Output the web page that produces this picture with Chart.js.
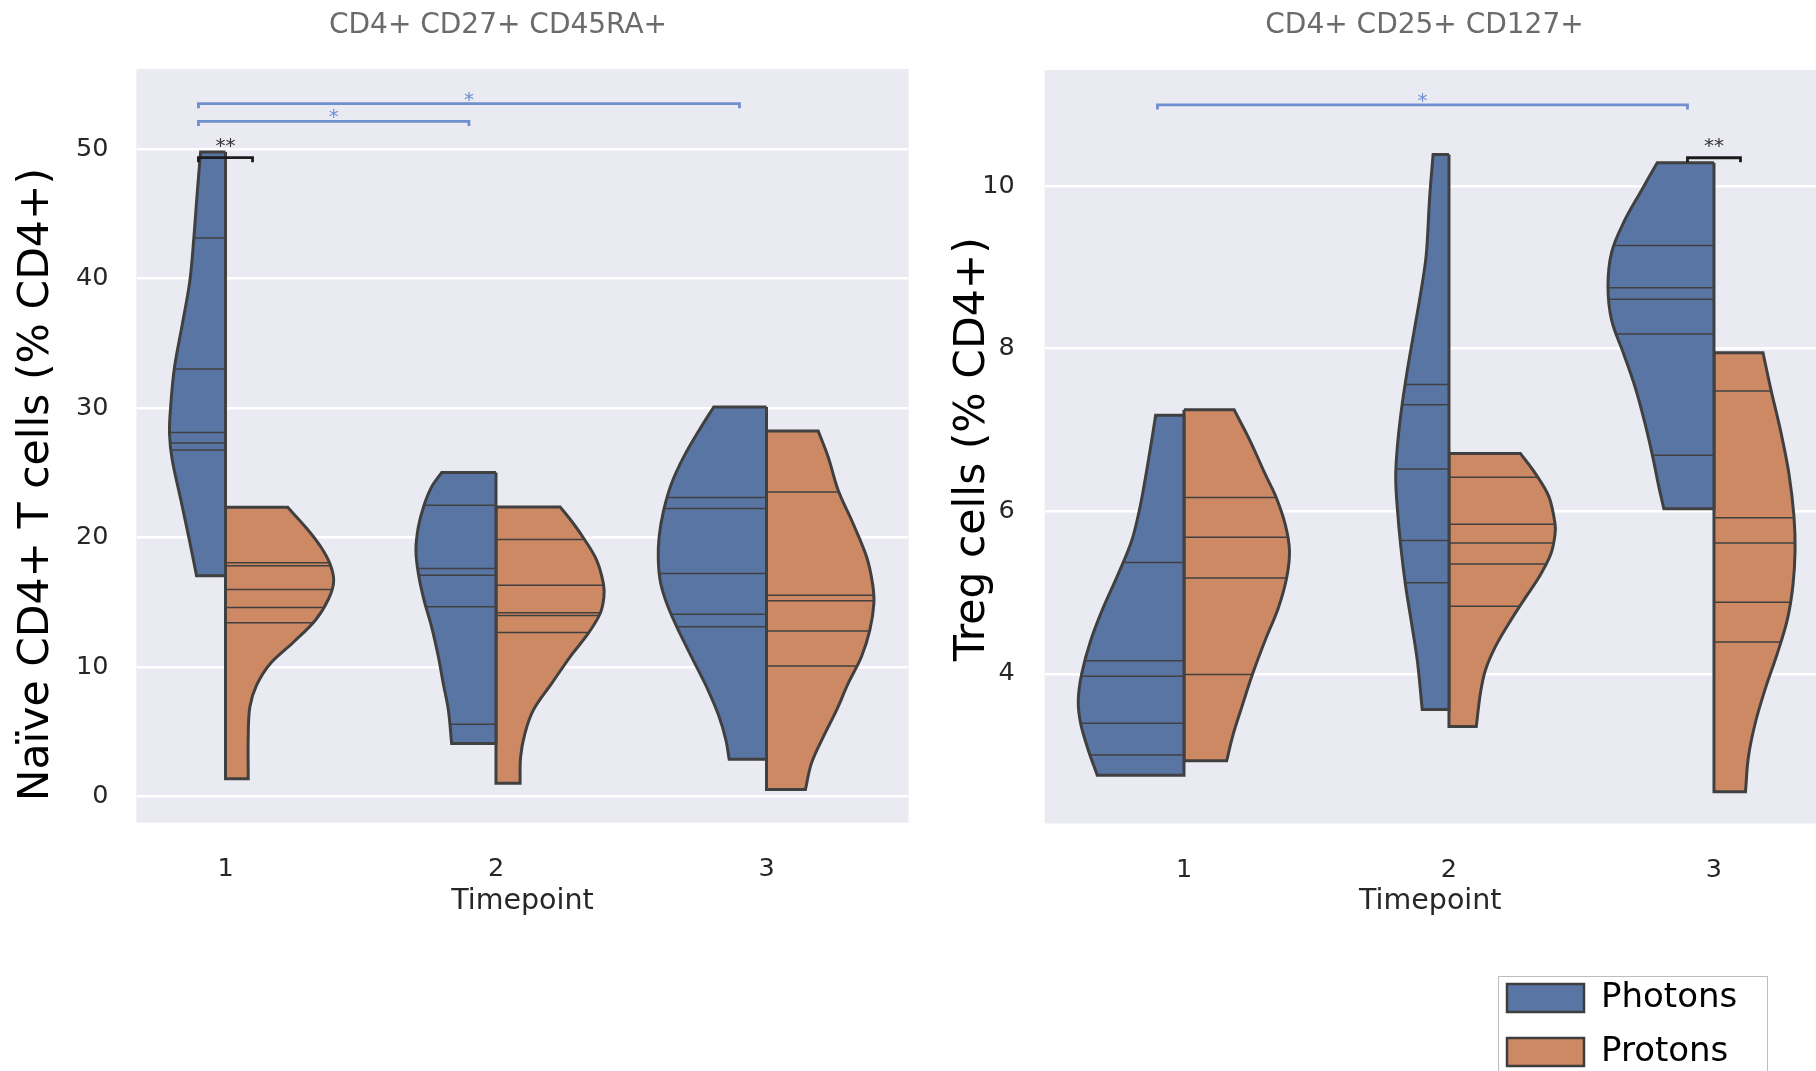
<!DOCTYPE html>
<html>
<head>
<meta charset="utf-8">
<script src="https://cdn.jsdelivr.net/npm/chart.js@4.4.0/dist/chart.umd.min.js"></script>
<style>
  html, body { margin: 0; padding: 0; background: #fff; overflow: hidden; }
  #page { position: relative; width: 1816px; height: 1071px; overflow: hidden; }
  canvas { position: absolute; }
  #naiveChart { left: 0; top: 0; }
  #tregChart { left: 930px; top: 0; }
  #legendBox { position: absolute; left: 1498px; top: 976px; width: 268px; height: 120px;
               border: 1px solid #bdbdbd; overflow: hidden; background: #fff; }
  #legendChart { left: -12px; top: -16px; }
</style>
</head>
<body>
<div id="page">
  <canvas id="naiveChart" width="920" height="940"></canvas>
  <canvas id="tregChart" width="886" height="940"></canvas>
  <div id="legendBox"><canvas id="legendChart" width="640" height="150"></canvas></div>
</div>
<script>
// =============================================================================
// DATA
// =============================================================================
const timepoints = ['1', '2', '3'];
const seriesNames = ['Photons', 'Protons'];
const seriesColors = ['#5875a4', '#cc8963'];
const seriesSide = [-1, 1];   // Photons on the left half, Protons on the right half

const naiveTicks = [0, 10, 20, 30, 40, 50];
const tregTicks = [4, 6, 8, 10];

// violin outlines: [value, half-width (category units)] from top to bottom, one per timepoint
const naivePhotonsOutline = [
  [[49.77, 0.092], [46.48, 0.105], [43.13, 0.117], [39.77, 0.132], [36.42, 0.160], [33.07, 0.189],
   [30.05, 0.203], [28.03, 0.207], [26.0, 0.197], [23.0, 0.166], [19.65, 0.132], [17.04, 0.107]],
  [[25.01, 0.201], [23.91, 0.238], [22.49, 0.266], [20.82, 0.287], [19.02, 0.296], [17.22, 0.287],
   [15.16, 0.266], [13.10, 0.238], [10.79, 0.213], [8.73, 0.195], [6.67, 0.176], [4.10, 0.164]],
  [[30.08, 0.195], [28.28, 0.249], [26.22, 0.306], [24.17, 0.351], [22.11, 0.380], [20.05, 0.397],
   [18.25, 0.400], [16.45, 0.391], [14.65, 0.364], [12.59, 0.320], [10.28, 0.265], [8.22, 0.216],
   [6.16, 0.175], [4.36, 0.150], [2.87, 0.138]]
];
const naiveProtonsOutline = [
  [[22.33, 0.230], [20.66, 0.302], [19.32, 0.351], [17.98, 0.386], [16.64, 0.400], [15.30, 0.382],
   [13.63, 0.333], [11.95, 0.253], [10.27, 0.166], [8.6, 0.115], [6.92, 0.090], [4.57, 0.084], [1.38, 0.084]],
  [[22.36, 0.237], [21.08, 0.286], [19.79, 0.329], [18.25, 0.372], [16.45, 0.397], [15.42, 0.399],
   [14.13, 0.385], [12.59, 0.341], [10.79, 0.274], [8.73, 0.206], [6.67, 0.138], [4.88, 0.107],
   [3.07, 0.091], [1.02, 0.089]],
  [[28.23, 0.191], [26.22, 0.228], [23.65, 0.265], [21.08, 0.320], [18.51, 0.370], [16.45, 0.392],
   [14.91, 0.397], [12.85, 0.382], [10.79, 0.351], [8.73, 0.302], [6.67, 0.259], [4.61, 0.210],
   [2.56, 0.166], [0.55, 0.144]]
];
const naivePhotonsSticks = [[43.13, 33.0, 28.1, 27.3, 26.76], [22.49, 17.61, 17.09, 14.65, 5.59], [23.09, 22.24, 17.22, 14.08, 13.10]];
const naiveProtonsSticks = [[18.04, 17.81, 15.99, 14.60, 13.41], [19.84, 16.32, 14.18, 13.98, 12.67], [23.52, 15.55, 15.11, 12.79, 10.07]];

const tregPhotonsOutline = [
  [[7.18, 0.107], [6.87, 0.122], [6.46, 0.143], [6.05, 0.166], [5.64, 0.197], [5.23, 0.248],
   [4.82, 0.304], [4.41, 0.352], [4.0, 0.386], [3.67, 0.399], [3.39, 0.390], [3.06, 0.361], [2.75, 0.327]],
  [[10.39, 0.060], [9.86, 0.073], [9.15, 0.086], [8.68, 0.107], [8.21, 0.132], [7.74, 0.157],
   [7.26, 0.179], [6.79, 0.195], [6.42, 0.201], [6.04, 0.195], [5.57, 0.182], [5.09, 0.164],
   [4.62, 0.141], [4.15, 0.119], [3.56, 0.101]],
  [[10.29, 0.214], [9.93, 0.277], [9.56, 0.340], [9.19, 0.386], [8.77, 0.400], [8.35, 0.386],
   [7.93, 0.340], [7.51, 0.296], [7.09, 0.261], [6.67, 0.231], [6.30, 0.208], [6.03, 0.189]]
];
const tregProtonsOutline = [
  [[7.25, 0.189], [6.87, 0.249], [6.46, 0.306], [6.17, 0.348], [5.84, 0.382], [5.52, 0.398],
   [5.19, 0.388], [4.82, 0.357], [4.41, 0.306], [4.0, 0.259], [3.59, 0.218], [3.26, 0.186], [2.93, 0.161]],
  [[6.71, 0.270], [6.46, 0.327], [6.18, 0.377], [5.85, 0.400], [5.71, 0.400], [5.47, 0.384],
   [5.19, 0.340], [4.91, 0.283], [4.62, 0.226], [4.34, 0.176], [4.05, 0.138], [3.77, 0.119], [3.35, 0.103]],
  [[7.95, 0.185], [7.51, 0.214], [6.98, 0.252], [6.46, 0.283], [5.93, 0.302], [5.51, 0.306],
   [5.09, 0.298], [4.67, 0.277], [4.25, 0.239], [3.83, 0.195], [3.41, 0.157], [2.98, 0.130], [2.55, 0.119]]
];
const tregPhotonsSticks = [[5.37, 4.16, 3.97, 3.39, 3.0], [7.56, 7.31, 6.52, 5.64, 5.12], [9.27, 8.75, 8.61, 8.18, 6.69]];
const tregProtonsSticks = [[6.17, 5.68, 5.18, 3.99], [6.42, 5.84, 5.61, 5.35, 4.83], [7.48, 5.92, 5.61, 4.88, 4.39]];

// significance brackets: [from x, to x, value, stars]
const naiveSigBlue = [[-0.1, 1.9, 53.49, '*'], [-0.1, 0.9, 52.12, '*']];
const naiveSigBlack = [[-0.1, 0.1, 49.32, '**']];
const tregSigBlue = [[-0.1, 1.9, 11.0, '*']];
const tregSigBlack = [[1.9, 2.1, 10.35, '**']];

// =============================================================================
// HELPERS
// =============================================================================
const FONT = "'DejaVu Sans', sans-serif";
const EDGE = '#404040';
const SIG_BLUE = '#6f8fce';
const SIG_BLACK = '#1c1c1c';

function widthAt(outline, v) {
  for (let i = 0; i < outline.length - 1; i++) {
    const [v0, w0] = outline[i];
    const [v1, w1] = outline[i + 1];
    if (v <= v0 && v >= v1) return w0 + (w1 - w0) * (v0 - v) / (v0 - v1);
  }
  return outline[outline.length - 1][1];
}

// closed half violin; corners doubled so the spline keeps them sharp
function halfViolin(center, side, outline) {
  const top = outline[0][0];
  const bottom = outline[outline.length - 1][0];
  const pts = [{ x: center, y: top }, { x: center, y: top }];
  outline.forEach(([v, w], i) => {
    pts.push({ x: center + side * w, y: v });
    if (i === 0 || i === outline.length - 1) pts.push({ x: center + side * w, y: v });
  });
  pts.push({ x: center, y: bottom }, { x: center, y: bottom }, { x: center, y: top }, { x: center, y: top });
  return pts;
}

function stickPoints(center, side, outline, sticks) {
  const pts = [];
  sticks.forEach(v => {
    pts.push({ x: center, y: v }, { x: center + side * widthAt(outline, v), y: v }, { x: center, y: null });
  });
  return pts;
}

function violinDatasets(outlines, sticks) {
  const sets = [];
  outlines.forEach((series, s) => {
    series.forEach((outline, t) => {
      sets.push({
        label: seriesNames[s], data: halfViolin(t, seriesSide[s], outline),
        showLine: true, fill: 'shape', backgroundColor: seriesColors[s],
        borderColor: EDGE, borderWidth: 3, tension: 0.35, pointRadius: 0, order: 3
      });
      sets.push({
        data: stickPoints(t, seriesSide[s], outline, sticks[s][t]),
        showLine: true, fill: false, borderColor: EDGE, borderWidth: 1.5,
        tension: 0, pointRadius: 0, order: 2
      });
    });
  });
  return sets;
}

function sigDatasets(bars, color, cap) {
  return bars.map(([a, b, v]) => ({
    data: [{ x: a, y: v - cap }, { x: a, y: v }, { x: b, y: v }, { x: b, y: v - cap }],
    showLine: true, fill: false, borderColor: color, borderWidth: 2.8,
    tension: 0, pointRadius: 0, order: 1
  }));
}

const bgPlugin = {
  id: 'plotBackground',
  beforeDraw(chart) {
    const { ctx, chartArea: a } = chart;
    ctx.save();
    ctx.fillStyle = '#eaeaf2';
    ctx.fillRect(a.left, a.top, a.right - a.left, a.bottom - a.top);
    ctx.restore();
  }
};

function starPlugin(groups) {
  return {
    id: 'sigStars',
    afterDatasetsDraw(chart) {
      const { ctx, scales: { x, y } } = chart;
      ctx.save();
      ctx.font = `20px ${FONT}`;
      ctx.textAlign = 'center';
      ctx.textBaseline = 'alphabetic';
      groups.forEach(g => {
        ctx.fillStyle = g.color;
        g.bars.forEach(([a, b, v, s]) => {
          ctx.fillText(s, x.getPixelForValue((a + b) / 2), y.getPixelForValue(v) - g.gap);
        });
      });
      ctx.restore();
    }
  };
}

// panel title and rotated y-axis label, placed where the reference has them
function labelPlugin(labels) {
  return {
    id: 'panelLabels',
    afterDraw(chart) {
      const ctx = chart.ctx;
      labels.forEach(l => {
        ctx.save();
        ctx.translate(l.x, l.y);
        ctx.rotate(l.rotate || 0);
        ctx.font = `${l.size}px ${FONT}`;
        ctx.fillStyle = l.color;
        ctx.textAlign = 'center';
        ctx.textBaseline = 'middle';
        ctx.fillText(l.text, 0, 0);
        ctx.restore();
      });
    }
  };
}

function makePanel(id, p) {
  return new Chart(document.getElementById(id), {
    type: 'scatter',
    data: {
      datasets: [
        ...sigDatasets(p.sigBlue, SIG_BLUE, p.cap),
        ...sigDatasets(p.sigBlack, SIG_BLACK, p.cap),
        ...violinDatasets(p.outlines, p.sticks)
      ]
    },
    options: {
      responsive: false,
      animation: false,
      events: [],
      layout: { padding: { left: 0, right: p.padRight, top: p.padTop, bottom: 0 } },
      plugins: {
        legend: { display: false },
        tooltip: { enabled: false },
        title: { display: false }
      },
      scales: {
        x: {
          type: 'linear', min: p.xMin, max: p.xMax,
          grid: { display: false }, border: { display: false },
          afterBuildTicks: s => { s.ticks = timepoints.map((_, i) => ({ value: i })); },
          afterFit: s => { s.height = p.xHeight; },
          ticks: {
            padding: 23.6, color: '#262626', maxRotation: 0, autoSkip: false,
            font: { family: FONT, size: 25.5 },
            callback: v => timepoints[v]
          },
          title: {
            display: true, text: 'Timepoint', color: '#262626',
            font: { family: FONT, size: 28.5 }, padding: { top: 0, bottom: 21.4 }
          }
        },
        y: {
          min: p.yMin, max: p.yMax,
          grid: { color: '#ffffff', lineWidth: 2.5, drawTicks: false },
          border: { display: false },
          afterBuildTicks: s => { s.ticks = p.yTicks.map(v => ({ value: v })); },
          afterFit: s => { s.width = p.yWidth; },
          ticks: { padding: p.yPad, color: '#262626', font: { family: FONT, size: 25.5 } }
        }
      }
    },
    plugins: [
      bgPlugin,
      starPlugin([{ bars: p.sigBlue, color: SIG_BLUE, gap: -2 }, { bars: p.sigBlack, color: '#333333', gap: 6 }]),
      labelPlugin([
        { text: p.title, x: p.titleX, y: 26, size: 28, color: '#6b6b6b' },
        { text: p.yLabel, x: p.yLabelX, y: p.yLabelY, size: 42.5, color: '#000000', rotate: -Math.PI / 2 }
      ])
    ]
  });
}

// =============================================================================
// CHARTS
// =============================================================================
makePanel('naiveChart', {
  title: 'CD4+ CD27+ CD45RA+', titleX: 498,
  yLabel: 'Naïve CD4+ T cells (% CD4+)', yLabelX: 37, yLabelY: 484.6,
  outlines: [naivePhotonsOutline, naiveProtonsOutline],
  sticks: [naivePhotonsSticks, naiveProtonsSticks],
  sigBlue: naiveSigBlue, sigBlack: naiveSigBlack, cap: 0.35,
  yTicks: naiveTicks, yMin: -2.02, yMax: 56.17, xMin: -0.329, xMax: 2.525,
  padTop: 69, padRight: 11.5, yWidth: 136.5, yPad: 28, xHeight: 117.3
});

makePanel('tregChart', {
  title: 'CD4+ CD25+ CD127+', titleX: 494.5,
  yLabel: 'Treg cells (% CD4+)', yLabelX: 43, yLabelY: 449,
  outlines: [tregPhotonsOutline, tregProtonsOutline],
  sticks: [tregPhotonsSticks, tregProtonsSticks],
  sigBlue: tregSigBlue, sigBlack: tregSigBlack, cap: 0.055,
  yTicks: tregTicks, yMin: 2.159, yMax: 11.43, xMin: -0.526, xMax: 2.385,
  padTop: 70, padRight: 0, yWidth: 114.6, yPad: 30, xHeight: 116.6
});

// legend on its own small chart
new Chart(document.getElementById('legendChart'), {
  type: 'bar',
  data: {
    labels: [],
    datasets: seriesNames.map((name, i) => ({ label: name, data: [], backgroundColor: seriesColors[i] }))
  },
  options: {
    responsive: false,
    animation: false,
    events: [],
    layout: { padding: 0 },
    scales: { x: { display: false }, y: { display: false } },
    plugins: {
      tooltip: { enabled: false },
      legend: {
        position: 'left', align: 'start', maxWidth: 300,
        labels: {
          boxWidth: 77, boxHeight: 28, padding: 20, color: '#262626',
          font: { family: FONT, size: 34 },
          generateLabels: chart => chart.data.datasets.map((d, i) => ({
            text: d.label, fillStyle: d.backgroundColor, strokeStyle: '#3d3d3d',
            lineWidth: 2.5, hidden: false, datasetIndex: i
          }))
        }
      }
    }
  }
});
</script>
</body>
</html>
